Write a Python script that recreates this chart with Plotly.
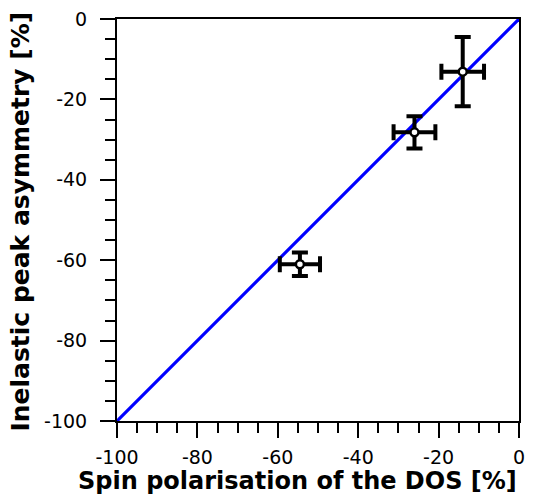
import plotly.graph_objects as go

# Measured points: spin polarisation vs. inelastic peak asymmetry
spin_pol = [-54.5, -26.0, -14.0]
spin_pol_err = [5.0, 5.2, 5.3]
asymmetry = [-61.0, -28.2, -13.1]
asymmetry_err = [2.9, 4.0, 8.6]

# Reference diagonal y = x
diag_x = [-100, 0]
diag_y = [-100, 0]

x_ticks = [-100, -80, -60, -40, -20, 0]
y_ticks = [-100, -80, -60, -40, -20, 0]

x_title = "Spin polarisation of the DOS [%]"
y_title = "Inelastic peak asymmetry [%]"

fig = go.Figure()

fig.add_trace(go.Scatter(
    x=diag_x, y=diag_y, mode="lines",
    line=dict(color="#0000ff", width=3.2),
    showlegend=False, hoverinfo="skip",
))

fig.add_trace(go.Scatter(
    x=spin_pol, y=asymmetry, mode="markers",
    marker=dict(symbol="circle", size=8, color="white",
                line=dict(color="black", width=2.5)),
    error_x=dict(type="data", array=spin_pol_err, color="black",
                 thickness=4, width=8),
    error_y=dict(type="data", array=asymmetry_err, color="black",
                 thickness=4, width=8),
    showlegend=False,
))

axis_common = dict(
    showline=True, linecolor="black", linewidth=2, mirror=True,
    showgrid=False, zeroline=False, automargin=False,
    ticks="outside", ticklen=15, tickwidth=2, tickcolor="black",
    tickfont=dict(family="DejaVu Sans", size=19, color="black"),
    minor=dict(dtick=5, ticks="outside", ticklen=10, tickwidth=2,
               tickcolor="black", showgrid=False),
)

fig.update_xaxes(range=[-100, 0], tickvals=x_ticks,
                 ticktext=[str(v) for v in x_ticks],
                 ticklabelstandoff=3, **axis_common)
fig.update_yaxes(range=[-100, 0], tickvals=y_ticks,
                 ticktext=[str(v) for v in y_ticks],
                 ticklabelstandoff=9, **axis_common)

# Axis titles placed as annotations in paper coordinates
fig.add_annotation(
    text=f"<b>{x_title}</b>", xref="paper", yref="paper",
    x=0.449, y=-0.149, xanchor="center", yanchor="middle",
    showarrow=False,
    font=dict(family="DejaVu Sans", size=24, color="black"),
)
fig.add_annotation(
    text=f"<b>{y_title}</b>", xref="paper", yref="paper",
    x=-0.239, y=0.496, xanchor="center", yanchor="middle",
    textangle=-90, showarrow=False,
    font=dict(family="DejaVu Sans", size=25, color="black"),
)

fig.update_layout(
    width=540, height=495,
    margin=dict(l=117, r=21, t=19, b=74),
    plot_bgcolor="white", paper_bgcolor="white",
    font=dict(family="DejaVu Sans", color="black"),
)

fig.write_html("out.html")
